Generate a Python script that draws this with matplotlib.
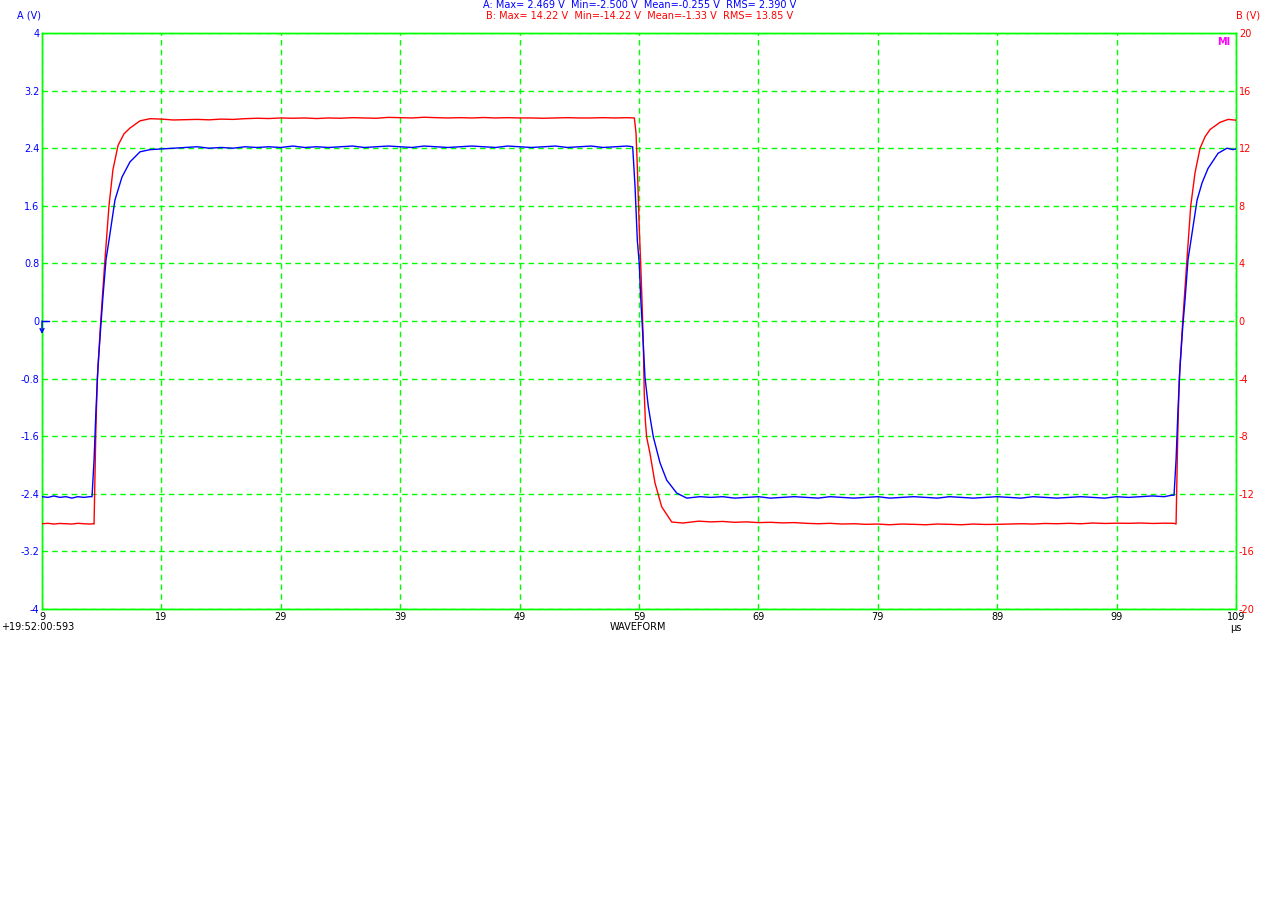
import matplotlib
matplotlib.use("Agg")
import matplotlib.pyplot as plt
import numpy as np

# channel A (blue, left axis, V) -- time in microseconds
t_a = [9.0, 9.5, 10.0, 10.5, 11.0, 11.5, 12.0, 12.5, 13.0,
       13.19, 13.36, 13.52, 13.69, 13.92, 14.11, 14.36, 14.70, 15.11, 15.70, 16.37, 17.21, 18.05,
       19, 20, 21, 22, 23, 24, 25, 26, 27, 28, 29, 30, 31, 32, 33, 34, 35, 36, 37, 38,
       39, 40, 41, 42, 43, 44, 45, 46, 47, 48, 49, 50, 51, 52, 53, 54, 55, 56, 57, 58,
       58.47, 58.50, 58.67, 58.75, 58.86, 59.02, 59.14, 59.31, 59.50, 59.78, 60.20, 60.76,
       61.32, 62.16, 63.0, 64.11,
       65, 66, 67, 68, 69, 70, 71, 72, 73, 74, 75, 76, 77, 78, 79, 80, 81, 82, 83, 84,
       85, 86, 87, 88, 89, 90, 91, 92, 93, 94, 95, 96, 97, 98, 99, 100, 101, 102, 103, 103.6,
       103.81, 103.98, 104.14, 104.31, 104.54, 104.73, 104.98, 105.32, 105.74, 106.16, 106.66,
       107.50, 108.25, 108.75, 108.95]
v_a = [-2.44, -2.45, -2.43, -2.45, -2.44, -2.46, -2.44, -2.45, -2.44,
       -2.44, -1.93, -1.24, -0.64, -0.08, 0.35, 0.85, 1.22, 1.68, 2.00, 2.21, 2.35, 2.38,
       2.39, 2.40, 2.41, 2.42, 2.40, 2.41, 2.40, 2.42, 2.41, 2.42, 2.41, 2.43, 2.41, 2.42,
       2.41, 2.42, 2.43, 2.41, 2.42, 2.43, 2.42, 2.41, 2.43, 2.42, 2.41, 2.42, 2.43, 2.42,
       2.41, 2.43, 2.42, 2.41, 2.42, 2.43, 2.41, 2.42, 2.43, 2.41, 2.42, 2.43,
       2.42, 2.34, 1.86, 1.54, 1.12, 0.80, 0.33, -0.17, -0.78, -1.19, -1.61, -1.97,
       -2.21, -2.39, -2.46, -2.44,
       -2.45, -2.44, -2.46, -2.45, -2.44, -2.46, -2.45, -2.44, -2.45, -2.46, -2.44, -2.45,
       -2.46, -2.45, -2.44, -2.46, -2.45, -2.44, -2.45, -2.46, -2.44, -2.45, -2.46, -2.45,
       -2.44, -2.45, -2.46, -2.44, -2.45, -2.46, -2.45, -2.44, -2.45, -2.46, -2.44, -2.45,
       -2.44, -2.43, -2.44, -2.42,
       -2.42, -1.93, -1.24, -0.64, -0.08, 0.29, 0.85, 1.22, 1.68, 1.92, 2.12,
       2.33, 2.40, 2.38, 2.39]

# channel B (red, right axis, V)
t_b = [9.0, 9.5, 10.0, 10.5, 11.0, 11.5, 12.0, 12.5, 13.0, 13.3,
       13.36, 13.50, 13.63, 13.92, 14.25, 14.61, 14.94, 15.37, 15.87, 16.37, 17.21, 18.05,
       19, 20, 21, 22, 23, 24, 25, 26, 27, 28, 29, 30, 31, 32, 33, 34, 35, 36, 37, 38,
       39, 40, 41, 42, 43, 44, 45, 46, 47, 48, 49, 50, 51, 52, 53, 54, 55, 56, 57, 58,
       58.61, 58.75, 58.86, 59.02, 59.14, 59.25, 59.36, 59.44, 59.53, 59.64, 59.92, 60.34,
       60.90, 61.74, 62.68,
       63.5, 64, 65, 66, 67, 68, 69, 70, 71, 72, 73, 74, 75, 76, 77, 78, 79, 80, 81, 82,
       83, 84, 85, 86, 87, 88, 89, 90, 91, 92, 93, 94, 95, 96, 97, 98, 99, 100, 101, 102,
       103, 103.8,
       103.98, 104.12, 104.25, 104.54, 104.87, 105.21, 105.57, 105.99, 106.41, 106.83,
       107.67, 108.34, 108.95]
v_b = [-14.08, -14.05, -14.1, -14.06, -14.08, -14.1, -14.05, -14.08, -14.1, -14.08,
       -14.1, -8.0, -4.0, 0.0, 4.0, 8.0, 10.5, 12.2, 13.0, 13.4, 13.9, 14.05,
       14.02, 13.96, 13.98, 14.00, 13.97, 14.02, 14.00, 14.05, 14.08, 14.06, 14.10, 14.08,
       14.10, 14.06, 14.10, 14.08, 14.12, 14.10, 14.08, 14.14, 14.12, 14.10, 14.15, 14.12,
       14.10, 14.12, 14.10, 14.13, 14.10, 14.12, 14.10, 14.10, 14.08, 14.10, 14.12, 14.10,
       14.10, 14.12, 14.10, 14.12,
       14.10, 13.06, 10.7, 6.5, 4.0, 1.46, -1.53, -5.0, -6.9, -8.06, -9.2, -11.25,
       -12.9, -13.96, -14.03,
       -13.95, -13.90, -13.95, -13.92, -13.98, -13.95, -14.00, -13.98, -14.02, -14.00,
       -14.05, -14.08, -14.05, -14.10, -14.08, -14.12, -14.10, -14.15, -14.10, -14.12,
       -14.15, -14.10, -14.12, -14.15, -14.10, -14.13, -14.12, -14.10, -14.08, -14.10,
       -14.06, -14.08, -14.05, -14.08, -14.03, -14.06, -14.04, -14.05, -14.03, -14.06,
       -14.04, -14.05,
       -14.1, -8.0, -4.0, 0.0, 4.0, 8.0, 10.3, 12.0, 12.8, 13.3,
       13.8, 14.0, 13.95]

a_ticks = [4, 3.2, 2.4, 1.6, 0.8, 0, -0.8, -1.6, -2.4, -3.2, -4]
b_ticks = [20, 16, 12, 8, 4, 0, -4, -8, -12, -16, -20]
x_ticks = [9, 19, 29, 39, 49, 59, 69, 79, 89, 99, 109]

header_a = "A: Max= 2.469 V  Min=-2.500 V  Mean=-0.255 V  RMS= 2.390 V"
header_b = "B: Max= 14.22 V  Min=-14.22 V  Mean=-1.33 V  RMS= 13.85 V"

GREEN = "#00ff00"
BLUE = "#0000ff"
RED = "#ff0000"
FS = 7

W, H = 1276, 900
fig = plt.figure(figsize=(W / 100, H / 100), dpi=100)
ax = fig.add_axes([42 / W, 1 - 609 / H, (1236 - 42) / W, (609 - 33) / H])
ax2 = ax.twinx()

ax.set_xlim(9, 109)
ax.set_ylim(-4, 4)
ax2.set_ylim(-20, 20)

ax.set_xticks(x_ticks)
ax.set_xticklabels([str(x) for x in x_ticks])
ax.set_yticks(a_ticks)
ax.set_yticklabels([f"{v:g}" for v in a_ticks])
ax2.set_yticks(b_ticks)
ax2.set_yticklabels([f"{v:g}" for v in b_ticks])

ax.grid(True, color=GREEN, linestyle=(0, (4, 3)), linewidth=1.0)
for a in (ax, ax2):
    for s in a.spines.values():
        s.set_color(GREEN)
        s.set_linewidth(1.0)
ax.tick_params(axis="x", length=0, pad=2, labelsize=FS, colors="black")
ax.tick_params(axis="y", length=0, pad=2, labelsize=FS, labelcolor=BLUE)
ax2.tick_params(axis="y", length=0, pad=2, labelsize=FS, labelcolor=RED)

ax2.set_zorder(ax.get_zorder() + 1)
ax2.patch.set_visible(False)
ax2.plot(t_b, v_b, color=RED, linewidth=1.0, zorder=3)
ax2.plot(np.array(t_a), np.array(v_a) * 5, color=BLUE, linewidth=1.0, zorder=4)

# channel A zero marker: short tick plus downward arrow
ax2.plot([9, 9.6], [0, 0], color=BLUE, linewidth=1.0, clip_on=False, zorder=5)
ax2.annotate("", xy=(9, -0.9), xytext=(9, 0.0), xycoords="data",
             arrowprops=dict(arrowstyle="->", color=BLUE, lw=1.0, mutation_scale=7,
                             shrinkA=0, shrinkB=0),
             annotation_clip=False, zorder=5)

fig.text(640 / W, 1 - 5 / H, header_a, color=BLUE, fontsize=FS, ha="center", va="center")
fig.text(640 / W, 1 - 16 / H, header_b, color=RED, fontsize=FS, ha="center", va="center")
fig.text(29 / W, 1 - 16 / H, "A (V)", color=BLUE, fontsize=FS, ha="center", va="center")
fig.text(1236 / W, 1 - 16 / H, "B (V)", color=RED, fontsize=FS, ha="left", va="center")
fig.text(1 / W, 1 - 627 / H, "+19:52:00:593", color="black", fontsize=FS, ha="left", va="center")
fig.text(638 / W, 1 - 627 / H, "WAVEFORM", color="black", fontsize=FS, ha="center", va="center")
fig.text(1236 / W, 1 - 628 / H, "µs", color="black", fontsize=FS, ha="center", va="center")
fig.text(1224 / W, 1 - 42 / H, "MI", color="#ff00ff", fontsize=7, fontweight="bold",
         ha="center", va="center")

fig.savefig("out.png", dpi=100)
